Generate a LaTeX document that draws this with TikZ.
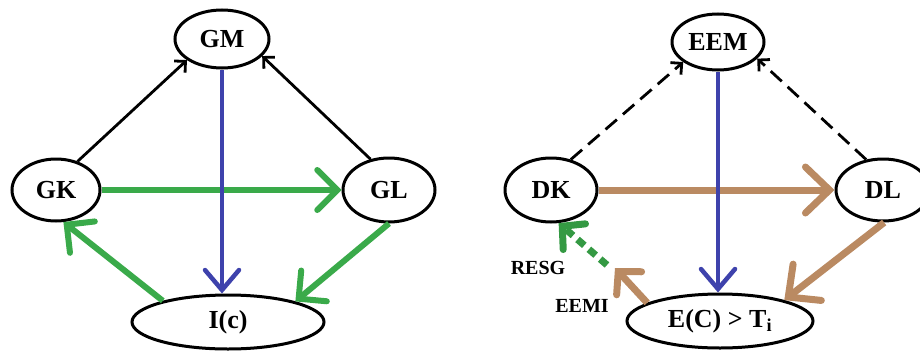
\documentclass[tikz,border=0pt]{standalone}
\usepackage{fontspec}
\setmainfont{Liberation Serif}
\usetikzlibrary{shapes.geometric,arrows.meta}
\definecolor{cgreen}{RGB}{58,170,74}
\definecolor{cblue}{RGB}{62,66,172}
\definecolor{cbrown}{RGB}{186,138,98}
\tikzset{
  ell/.style={ellipse,draw=black,line width=3pt,inner sep=0pt,fill=white,font=\fontsize{26}{28}\selectfont\bfseries},
  thinarr/.style={draw=black,line width=2.8pt,-{Straight Barb[length=8pt,width=16pt]}},
  dasharr/.style={thinarr,dash pattern=on 15pt off 8pt},
  greenarr/.style={draw=cgreen,line width=6pt,-{Straight Barb[length=20pt,width=40pt,line cap=round]}},
  bluearr/.style={draw=cblue,line width=4.5pt,-{Straight Barb[length=20pt,width=34pt,line cap=round]}},
  brownarr/.style={draw=cbrown,line width=7pt,-{Straight Barb[length=24pt,width=46pt,line cap=round]}},
  brownsmall/.style={draw=cbrown,line width=7pt,-{Straight Barb[length=16pt,width=34pt,line cap=round]}},
  greendash/.style={draw=cgreen!90!black,line width=7pt,dash pattern=on 9pt off 6pt,-{Straight Barb[length=16pt,width=34pt,line cap=round]}},
  lbl/.style={font=\fontsize{20}{22}\selectfont\bfseries,inner sep=0pt}
}
\begin{document}
\begin{tikzpicture}[x=1pt,y=-1pt]
\useasboundingbox (0,0) rectangle (920,356);
% left diagram
\node[ell,minimum width=94pt,minimum height=58pt] (gm) at (222,39) {GM};
\node[ell,minimum width=88pt,minimum height=62pt] (gk) at (56,190) {GK};
\node[ell,minimum width=92pt,minimum height=64pt] (gl) at (389,190) {GL};
\node[ell,minimum width=192pt,minimum height=54pt] (ic) at (228,322) {I(c)};
% right diagram
\node[ell,minimum width=92pt,minimum height=56pt] (eem) at (718,42) {EEM};
\node[ell,minimum width=92pt,minimum height=64pt] (dk) at (551,190) {DK};
\node[ell,minimum width=94pt,minimum height=62pt] (dl) at (883,190) {DL};
\node[ell,minimum width=186pt,minimum height=54pt] (ect) at (720,321) {E(C) > T\textsubscript{i}};
\node[lbl] (resg) at (538,268) {RESG};
\node[lbl] (eemi) at (582,306) {EEMI};
\coordinate (eemiend) at (615,268);
\coordinate (resgstart) at (607,265);
% left connectors
\draw[thinarr] (gk.53) -- (gm.211);
\draw[thinarr] (gl.121) -- (gm.337);
\draw[greenarr] (gk.east) -- (gl.west);
\draw[bluearr] (gm.south) -- (gm.south |- ic.north);
\draw[greenarr] (ic.162) -- (gk.283);
\draw[greenarr] (gl.270) -- (ic.17);
% right connectors
\draw[dasharr] (dk.57) -- (eem.210);
\draw[dasharr] (dl.119) -- (eem.337);
\draw[brownarr] (dk.east) -- (dl.west);
\draw[bluearr] (eem.south) -- (eem.south |- ect.north);
\draw[brownarr] (dl.272) -- (ect.18);
\draw[brownsmall] (ect.166) -- (eemiend);
\draw[greendash] (resgstart) -- (dk.283);
\end{tikzpicture}
\end{document}
